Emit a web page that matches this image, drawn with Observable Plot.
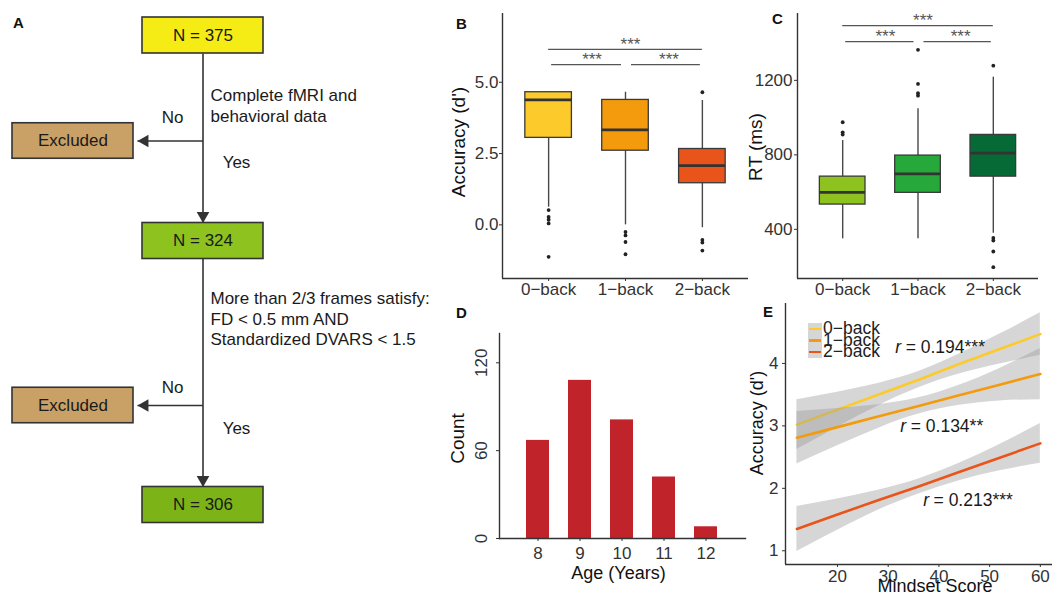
<!DOCTYPE html>
<html><head><meta charset="utf-8">
<script src="https://cdn.jsdelivr.net/npm/d3@7"></script>
<script src="https://cdn.jsdelivr.net/npm/@observablehq/plot@0.6"></script>
<style>
body{margin:0;background:#fff;}
#root{position:relative;width:1052px;height:595px;overflow:hidden;background:#fff;font-family:"Liberation Sans",Arial,Helvetica,sans-serif;}
.plab{position:absolute;font-weight:bold;font-size:15px;line-height:15px;color:#111;}
.legend{position:absolute;font-size:17.5px;color:#222;}
.legend .row{display:flex;align-items:center;height:11.5px;}
.legend .key{width:14px;height:11.5px;background:#d6d6d6;position:relative;}
.legend .key i{position:absolute;left:1px;right:1px;top:4.5px;height:2.6px;}
.legend .lab{margin-left:1px;line-height:11.5px;white-space:nowrap;}
</style></head>
<body><div id="root"></div>
<script>
// ================= DATA =================
// Panel A (flowchart)
const flowCounts = [375, 324, 306];
const flowCriteria = ["Complete fMRI and\nbehavioral data", "More than 2/3 frames satisfy:\nFD < 0.5 mm AND\nStandardized DVARS < 1.5"];
const flowExcluded = ["Excluded", "Excluded"];
const flowNo = ["No", "No"];
const flowYes = ["Yes", "Yes"];

// Panel B & C categories
const tasks = ["0\u2212back", "1\u2212back", "2\u2212back"];
// Panel B: Accuracy (d')
const accQ1 = [3.05, 2.60, 1.46];
const accMedian = [4.38, 3.33, 2.08];
const accQ3 = [4.65, 4.38, 2.66];
const accWhiskerLow = [0.62, 0.00, -0.10];
const accWhiskerHigh = [4.65, 4.65, 4.36];
const accOutliers = [[0.52, 0.28, 0.18, 0.05, -1.12], [-0.25, -0.37, -0.60, -1.03], [4.65, -0.53, -0.62, -0.90]];
const accTicks = [0, 2.5, 5];
// Panel C: RT (ms)
const rtQ1 = [533, 596, 683];
const rtMedian = [599, 698, 809];
const rtQ3 = [683, 796, 907];
const rtWhiskerLow = [349, 349, 379];
const rtWhiskerHigh = [877, 1047, 1217];
const rtOutliers = [[975, 921, 909], [1364, 1181, 1131, 1118], [1279, 354, 340, 281, 197]];
const rtTicks = [400, 800, 1200];
// significance comparisons (task index pairs, 1-based)
const sigPairs = [[1, 3], [1, 2], [2, 3]];
const sigLabels = ["***", "***", "***"];
const accSigY = [6.15, 5.62, 5.62];
const rtSigY = [1494, 1408, 1408];

// Panel D: age histogram
const ages = [8, 9, 10, 11, 12];
const ageCounts = [67, 108, 81, 42, 8];
const countTicks = [0, 60, 120];

// Panel E: accuracy vs mindset
const mindsetX = [12, 20, 28, 36, 44, 52, 60];
const fit0 = [3.02, 3.26, 3.50, 3.74, 3.99, 4.23, 4.47];
const lo0 = [2.62, 2.98, 3.32, 3.61, 3.83, 3.99, 4.13];
const hi0 = [3.42, 3.54, 3.68, 3.87, 4.15, 4.47, 4.81];
const fit1 = [2.81, 2.98, 3.15, 3.32, 3.49, 3.66, 3.83];
const lo1 = [2.39, 2.68, 2.96, 3.19, 3.33, 3.40, 3.42];
const hi1 = [3.23, 3.28, 3.34, 3.45, 3.65, 3.92, 4.24];
const fit2 = [1.35, 1.58, 1.81, 2.03, 2.26, 2.49, 2.72];
const lo2 = [0.99, 1.33, 1.65, 1.91, 2.12, 2.28, 2.40];
const hi2 = [1.71, 1.83, 1.97, 2.15, 2.40, 2.70, 3.04];
const rValues = ["0.194***", "0.134**", "0.213***"];
const rLabelX = [31.4, 32.4, 36.9];
const rLabelY = [4.26, 2.99, 1.81];
const mindsetTicks = [20, 30, 40, 50, 60];
const accETicks = [1, 2, 3, 4];

// ================= STYLE =================
const FONT = '"Liberation Sans", Arial, Helvetica, sans-serif';
const accColors = ["#fccb2b", "#f39b0c", "#e8541a"];
const rtColors = ["#8dc21f", "#27a83a", "#056a35"];
const flowFills = ["#f5eb15", "#8dc21f", "#7cb417"];
const exclFill = "#c9a066";
const barFill = "#c1232b";
const AX = "#333";
const TICK = 17;
const BOXHALF = 0.303;
const bracketInsets = [[0, 0], [3, 4], [6, 2]];

const root = document.getElementById("root");
function place(node, left, top) {
  node.style.position = "absolute";
  node.style.left = left + "px";
  node.style.top = top + "px";
  root.appendChild(node);
}
const baseStyle = {background: "transparent", fontFamily: FONT, overflow: "visible", color: "#222"};
const yTitle = (t, dx, dy, fs) => Plot.text([t], {text: d => d, frameAnchor: "left", textAnchor: "middle", lineAnchor: "middle", rotate: -90, dx, dy, fontSize: fs, fill: "#111"});
const xTitle = (t, dx, dy, fs) => Plot.text([t], {text: d => d, frameAnchor: "bottom", textAnchor: "middle", lineAnchor: "middle", dx, dy, fontSize: fs, fill: "#111"});

// ================= PANEL A =================
const FL = {mainX: 202.5, boxW: 121, boxH: 36, nodeY: [35, 240.5, 504.5], exclX: 72.5, exclW: 121, exclH: 35.5,
  exclY: [140.5, 405], tipX: 137, critX: 210, critY: [104, 317.5], noX: 172, noY: [117, 387], yesX: 236, yesY: [162, 428]};
const nodes = flowCounts.map((n, i) => ({label: `N = ${n}`, cx: FL.mainX, cy: FL.nodeY[i], w: FL.boxW, h: FL.boxH, fill: flowFills[i]}));
const excl = flowExcluded.map((s, i) => ({label: s, cx: FL.exclX, cy: FL.exclY[i], w: FL.exclW, h: FL.exclH, fill: exclFill}));
const boxes = nodes.concat(excl);
const vSegs = [0, 1].map(i => ({x: FL.mainX, y1: FL.nodeY[i] + FL.boxH / 2, y2: FL.nodeY[i + 1] - FL.boxH / 2}));
const hSegs = [0, 1].map(i => ({y: FL.exclY[i], x1: FL.mainX, x2: FL.tipX}));
const plotA = Plot.plot({
  width: 420, height: 595, margin: 0,
  style: baseStyle,
  x: {domain: [0, 420], axis: null},
  y: {domain: [0, 595], reverse: true, axis: null},
  color: {type: "identity"},
  marks: [
    Plot.link(vSegs, {x1: "x", x2: "x", y1: "y1", y2: "y2", stroke: AX, strokeWidth: 1.6}),
    Plot.link(hSegs, {x1: "x1", x2: "x2", y1: "y", y2: "y", stroke: AX, strokeWidth: 1.6}),
    Plot.dot(vSegs, {x: "x", y: "y2", symbol: "triangle", r: 4.7, rotate: 180, fill: AX, stroke: "none", dy: -7.3}),
    Plot.dot(hSegs, {x: "x2", y: "y", symbol: "triangle", r: 4.7, rotate: -90, fill: AX, stroke: "none", dx: 7.3}),
    Plot.rect(boxes, {x1: d => d.cx - d.w / 2, x2: d => d.cx + d.w / 2, y1: d => d.cy - d.h / 2, y2: d => d.cy + d.h / 2, fill: "fill", stroke: "#333", strokeWidth: 1.6}),
    Plot.text(boxes, {x: "cx", y: "cy", text: "label", fontSize: 17, fill: "#1a1a1a"}),
    Plot.text(flowCriteria, {x: FL.critX, y: (d, i) => FL.critY[i], text: d => d, textAnchor: "start", fontSize: 17, lineHeight: 1.22, fill: "#1a1a1a"}),
    Plot.text(flowNo, {x: FL.noX, y: (d, i) => FL.noY[i], text: d => d, fontSize: 17, fill: "#1a1a1a"}),
    Plot.text(flowYes, {x: FL.yesX, y: (d, i) => FL.yesY[i], text: d => d, fontSize: 17, fill: "#1a1a1a"})
  ]
});
place(plotA, 0, 0);

// ================= BOX PLOT helper =================
function boxPanel({q1, med, q3, lo, hi, outliers, colors, yDomain, yTicks, tickFmt, sigY, title, width, height, margins, titleDx, titleDy, yPad, starDx}) {
  const rows = tasks.map((t, i) => ({i: i + 1, q1: q1[i], med: med[i], q3: q3[i], lo: lo[i], hi: hi[i], fill: colors[i]}));
  const outs = outliers.flatMap((a, i) => a.map(v => ({i: i + 1, v})));
  const brackets = sigPairs.map(([a, b], k) => ({a, b, y: sigY[k], lab: sigLabels[k]}));
  const xDomain = [0.4, tasks.length + 0.6];
  return Plot.plot({
    width, height, ...margins,
    style: baseStyle,
    x: {domain: xDomain, label: null},
    y: {domain: yDomain, label: null},
    color: {type: "identity"},
    marks: [
      Plot.ruleX(rows, {x: "i", y1: "lo", y2: "hi", stroke: "#484848", strokeWidth: 1.4}),
      Plot.rect(rows, {x1: d => d.i - BOXHALF, x2: d => d.i + BOXHALF, y1: "q1", y2: "q3", fill: "fill", stroke: "#3a3a3a", strokeWidth: 1.3}),
      Plot.ruleY(rows, {y: "med", x1: d => d.i - BOXHALF, x2: d => d.i + BOXHALF, stroke: "#333", strokeWidth: 2.8}),
      Plot.dot(outs, {x: "i", y: "v", r: 1.9, fill: "#222", stroke: "none"}),
      ...brackets.map((b, k) => Plot.ruleY([b], {x1: "a", x2: "b", y: "y", stroke: "#555", strokeWidth: 1.3, insetLeft: bracketInsets[k][0], insetRight: bracketInsets[k][1]})),
      Plot.text(brackets, {x: d => (d.a + d.b) / 2, y: "y", text: "lab", fontSize: 17, fill: "#555", dy: -5, dx: starDx}),
      Plot.ruleX([xDomain[0]], {stroke: AX, strokeWidth: 1.4}),
      Plot.ruleY([yDomain[0]], {stroke: AX, strokeWidth: 1.4}),
      Plot.axisX(tasks.map((t, i) => i + 1), {tickFormat: i => tasks[i - 1], tickSize: 3, tickPadding: 1, fontSize: TICK, color: AX, label: null}),
      Plot.axisY(yTicks, {tickFormat: tickFmt, tickSize: 3, tickPadding: yPad, fontSize: TICK, color: AX, label: null}),
      yTitle(title, titleDx, titleDy, 19)
    ]
  });
}

// ================= PANEL B =================
const plotB = boxPanel({q1: accQ1, med: accMedian, q3: accQ3, lo: accWhiskerLow, hi: accWhiskerHigh, outliers: accOutliers,
  colors: accColors, yDomain: [-1.88, 7.41], yTicks: accTicks, tickFmt: d3.format(".1f"), sigY: accSigY, title: "Accuracy (d')",
  width: 330, height: 300, margins: {marginLeft: 82, marginRight: 2, marginTop: 13, marginBottom: 22}, titleDx: -44, titleDy: -4, yPad: 1, starDx: 5});
place(plotB, 420, 0);

// ================= PANEL C =================
const plotC = boxPanel({q1: rtQ1, med: rtMedian, q3: rtQ3, lo: rtWhiskerLow, hi: rtWhiskerHigh, outliers: rtOutliers,
  colors: rtColors, yDomain: [136, 1559], yTicks: rtTicks, tickFmt: d3.format("d"), sigY: rtSigY, title: "RT (ms)",
  width: 312, height: 300, margins: {marginLeft: 57, marginRight: 14, marginTop: 13, marginBottom: 22}, titleDx: -42, titleDy: 1, yPad: 2, starDx: 5});
place(plotC, 740, 0);

// ================= PANEL D =================
const dRows = ages.map((a, i) => ({age: a, count: ageCounts[i]}));
const plotD = Plot.plot({
  width: 330, height: 305, marginLeft: 79, marginRight: 5, marginTop: 43, marginBottom: 57,
  style: baseStyle,
  x: {type: "band", domain: ages, paddingInner: 0.45, paddingOuter: 0.625, label: null},
  y: {domain: [0, 140], label: null},
  marks: [
    Plot.barY(dRows, {x: "age", y: "count", fill: barFill}),
    Plot.frame({anchor: "left", stroke: AX, strokeWidth: 1.4}),
    Plot.frame({anchor: "bottom", stroke: AX, strokeWidth: 1.4}),
    Plot.axisX(ages, {tickSize: 3, tickPadding: 5, fontSize: TICK, color: AX, label: null}),
    Plot.axisY(countTicks, {tickSize: 3, tickRotate: -90, tickPadding: 10, fontSize: TICK, color: AX, label: null}),
    yTitle("Count", -42, 2.5, 19),
    xTitle("Age (Years)", -4, 35, 18)
  ]
});
place(plotD, 420, 290);

// ================= PANEL E =================
const series = [
  {fit: fit0, lo: lo0, hi: hi0},
  {fit: fit1, lo: lo1, hi: hi1},
  {fit: fit2, lo: lo2, hi: hi2}
];
const eX = [9.75, 62.4], eY = [0.78, 4.96];
const eMarks = [];
series.forEach((s, k) => {
  const rows = mindsetX.map((x, j) => ({x, fit: s.fit[j], lo: s.lo[j], hi: s.hi[j]}));
  eMarks.push(Plot.areaY(rows, {x: "x", y1: "lo", y2: "hi", fill: "#999", fillOpacity: 0.4, curve: "natural"}));
  eMarks.push(Plot.lineY(rows, {x: "x", y: "fit", stroke: accColors[k], strokeWidth: 2.6}));
});
const rRows = rValues.map((v, i) => ({v, x: rLabelX[i], y: rLabelY[i]}));
const plotE = Plot.plot({
  width: 312, height: 305, marginLeft: 45, marginRight: 0, marginTop: 13, marginBottom: 31,
  style: baseStyle,
  x: {domain: eX, label: null},
  y: {domain: eY, label: null},
  marks: [
    ...eMarks,
    Plot.text(rRows, {x: "x", y: "y", text: () => "r", fontStyle: "italic", textAnchor: "start", fontSize: 17.5, fill: "#1a1a1a"}),
    Plot.text(rRows, {x: "x", y: "y", text: d => " = " + d.v, textAnchor: "start", dx: 5.5, fontSize: 17.5, fill: "#1a1a1a"}),
    Plot.ruleX([eX[0]], {stroke: AX, strokeWidth: 1.4}),
    Plot.ruleY([eY[0]], {stroke: AX, strokeWidth: 1.4}),
    Plot.axisX(mindsetTicks, {tickSize: 3, tickPadding: 2, fontSize: TICK, color: AX, label: null}),
    Plot.axisY(accETicks, {tickFormat: d3.format("d"), tickSize: 3, tickPadding: 4, fontSize: TICK, color: AX, label: null}),
    yTitle("Accuracy (d')", -28, -11, 18),
    xTitle("Mindset Score", 16, 22, 18)
  ]
});
place(plotE, 740, 290);

// legend for E
const leg = document.createElement("div");
leg.className = "legend";
tasks.forEach((t, k) => {
  const row = document.createElement("div"); row.className = "row";
  const key = document.createElement("span"); key.className = "key";
  const ln = document.createElement("i"); ln.style.background = accColors[k]; key.appendChild(ln);
  const lab = document.createElement("span"); lab.className = "lab"; lab.textContent = t;
  row.appendChild(key); row.appendChild(lab); leg.appendChild(row);
});
place(leg, 808, 323);

// panel letters
const letters = [["A", 13, 15], ["B", 456, 16], ["C", 772, 11], ["D", 456, 305], ["E", 763, 304]];
letters.forEach(([t, x, y]) => { const d = document.createElement("div"); d.className = "plab"; d.textContent = t; place(d, x, y); });
</script>
</body></html>
